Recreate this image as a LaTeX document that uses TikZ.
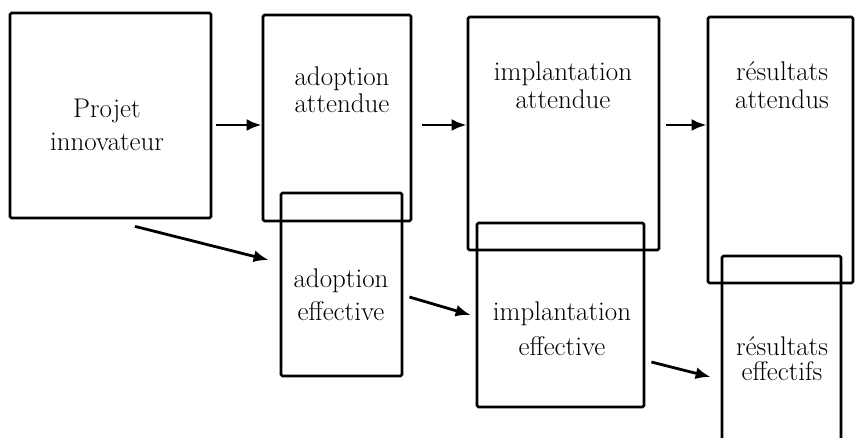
\documentclass[tikz,border=0pt]{standalone}
\usetikzlibrary{arrows.meta,calc}
\begin{document}
\begin{tikzpicture}[x=1pt,y=-1pt,
  box/.style={draw,line width=2.8pt,rounded corners=1.5pt,inner sep=0pt},
  txt/.style={align=center,inner sep=0pt,font=\fontsize{27}{#1}\selectfont},
  arr/.style={line width=2.8pt,-{Latex[length=15pt,width=12pt]}}]
\clip (0,0) rectangle (855,437);
% boxes
\node[box,minimum width=201pt,minimum height=205pt] (projet) at (110.5,115.5) {};
\node[box,minimum width=148pt,minimum height=206pt] (aa) at (337,118) {};
\node[box,minimum width=121pt,minimum height=183pt] (ae) at (341.5,284.5) {};
\node[box,minimum width=191pt,minimum height=233pt] (ia) at (563.5,133.5) {};
\node[box,minimum width=167pt,minimum height=184pt] (ie) at (560.5,315) {};
\node[box,minimum width=145pt,minimum height=266pt] (ra) at (780.5,150) {};
\node[box,minimum width=119pt,minimum height=204pt] (re) at (781.5,358) {};
% texts
\node[txt=33] (tprojet) at (107,124.5) {Projet\\innovateur};
\node[txt=27] (taa) at (342,89.5) {adoption\\attendue};
\node[txt=28] (tia) at (563,85) {implantation\\attendue};
\node[txt=28] (tra) at (782,85) {résultats\\attendus};
\node[txt=33] (tae) at (341,294.5) {adoption\\effective};
\node[txt=35] (tie) at (562,328.5) {implantation\\effective};
\node[txt=25] (tre) at (782,358.5) {résultats\\effectifs};
% connectors
\coordinate (row) at (0,125);
\draw[arr,shorten <=4pt] (projet.east |- row) -- (aa.west |- row);
\draw[arr,shorten <=10pt] (aa.east |- row) -- (ia.west |- row);
\draw[arr,shorten <=6pt] (ia.east |- row) -- (ra.west |- row);
\draw[arr] ($(projet.south)+(24.5,7)$) -- ($(ae.west)+(-11,-24.5)$);
\draw[arr] ($(ae.east)+(6,12.5)$) -- ($(ie.west)+(-5,0)$);
\draw[arr] ($(ie.east)+(6,47)$) -- ($(re.west)+(-10,19)$);
\end{tikzpicture}
\end{document}
